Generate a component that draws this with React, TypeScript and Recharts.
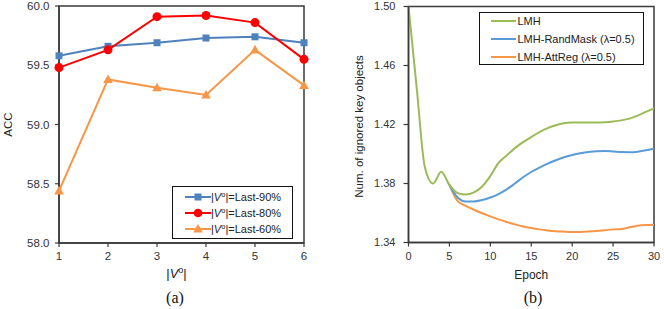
import React from 'react';
import { LineChart, Line, XAxis, YAxis, Legend, ReferenceArea, Label } from 'recharts';

// ---------- Chart (a) data ----------
const vSizes = [1, 2, 3, 4, 5, 6];
const last90 = [59.58, 59.66, 59.69, 59.73, 59.74, 59.69];
const last80 = [59.48, 59.63, 59.91, 59.92, 59.86, 59.55];
const last60 = [58.44, 59.38, 59.31, 59.25, 59.63, 59.33];
const accTicks = [58, 58.5, 59, 59.5, 60];

// ---------- Chart (b) data ----------
const epochs = [0, 1, 2, 3, 4, 5, 6, 7, 8, 9, 10, 11, 12, 13, 14, 15, 16, 17, 18, 19, 20, 21, 22, 23, 24, 25, 26, 27, 28, 29, 30];
const lmh = [1.5, 1.445, 1.391, 1.38, 1.388, 1.379, 1.3735, 1.3725, 1.374, 1.378, 1.385, 1.394, 1.399, 1.404, 1.408, 1.4115, 1.4148, 1.4175, 1.4195, 1.4208, 1.4213, 1.4214, 1.4213, 1.4213, 1.4215, 1.422, 1.4228, 1.424, 1.426, 1.4285, 1.431];
const randMask = [null, null, null, null, null, 1.379, 1.3705, 1.3678, 1.3678, 1.3688, 1.3705, 1.3728, 1.376, 1.38, 1.3842, 1.3878, 1.3908, 1.3935, 1.3958, 1.3978, 1.3993, 1.4005, 1.4014, 1.4019, 1.402, 1.4017, 1.4013, 1.4012, 1.4016, 1.4025, 1.4038];
const attReg = [null, null, null, null, null, 1.379, 1.368, 1.3648, 1.3622, 1.3598, 1.3577, 1.3557, 1.3539, 1.3523, 1.3509, 1.3498, 1.3489, 1.3482, 1.3477, 1.3474, 1.3472, 1.3472, 1.3474, 1.3478, 1.3483, 1.3489, 1.3492, 1.3503, 1.3514, 1.3519, 1.3521];
const epochTicks = [0, 5, 10, 15, 20, 25, 30];
const objTicks = [1.34, 1.38, 1.42, 1.46, 1.5];

const dataA = vSizes.map((v, i) => ({ v, l90: last90[i], l80: last80[i], l60: last60[i] }));
const dataB = epochs.map((e, i) => ({ e, lmh: lmh[i], rand: randMask[i], att: attReg[i] }));

const FONT = '"Liberation Sans", Arial, sans-serif';
const AXIS = '#3a3a3a';
const TICK_A = { fontSize: 11.5, fill: '#333', fontFamily: FONT };
const TICK_B = { fontSize: 11, fill: '#333', fontFamily: FONT };

const BLUE_A = '#4F81BD';
const RED_A = '#FF0000';
const ORANGE_A = '#F79646';
const GREEN_B = '#9BBB59';
const BLUE_B = '#5B9BD5';
const ORANGE_B = '#F79646';

const squareDot = (props: any) => {
  const { cx, cy, index } = props;
  if (cx == null || cy == null) return <g key={'s' + index} />;
  return <rect key={'s' + index} x={cx - 3.5} y={cy - 3.5} width={7} height={7} fill={BLUE_A} />;
};
const triDot = (props: any) => {
  const { cx, cy, index } = props;
  if (cx == null || cy == null) return <g key={'t' + index} />;
  return <polygon key={'t' + index} points={`${cx},${cy - 5} ${cx - 4.8},${cy + 3.6} ${cx + 4.8},${cy + 3.6}`} fill={ORANGE_A} />;
};

const VLabel = ({ size = 11, sup = 7.5 }: { size?: number; sup?: number }) => (
  <span style={{ fontSize: size }}>
    |<i>V</i>
    <span style={{ fontSize: sup, position: 'relative', top: -4 }}>o</span>|
  </span>
);

const legendA = [
  { suffix: '=Last-90%', color: BLUE_A, marker: 'square' },
  { suffix: '=Last-80%', color: RED_A, marker: 'circle' },
  { suffix: '=Last-60%', color: ORANGE_A, marker: 'tri' },
];

const LegendA = () => (
  <div style={{ position: 'relative', width: 121, height: 53, boxSizing: 'border-box', border: '1.5px solid #111', background: '#fff', fontFamily: FONT, fontSize: 11, color: '#222' }}>
    {legendA.map((s, i) => (
      <div key={i} style={{ position: 'absolute', left: 11.5, top: 1.5 + 16.3 * i, height: 16, display: 'flex', alignItems: 'center', whiteSpace: 'nowrap' }}>
        <svg width={26} height={16} style={{ display: 'block' }}>
          <line x1={0} y1={8} x2={26} y2={8} stroke={s.color} strokeWidth={2} />
          {s.marker === 'square' && <rect x={9.5} y={4.5} width={7} height={7} fill={s.color} />}
          {s.marker === 'circle' && <circle cx={13} cy={8} r={4.3} fill={s.color} />}
          {s.marker === 'tri' && <polygon points="13,3 8.2,11.6 17.8,11.6" fill={s.color} />}
        </svg>
        <span style={{ marginLeft: 0.5 }}>
          <VLabel size={11} sup={7.5} />
          {s.suffix}
        </span>
      </div>
    ))}
  </div>
);

const legendB = [
  { name: 'LMH', color: GREEN_B },
  { name: 'LMH-RandMask (λ=0.5)', color: BLUE_B },
  { name: 'LMH-AttReg (λ=0.5)', color: ORANGE_B },
];

const LegendB = () => (
  <div style={{ position: 'relative', width: 165, height: 53, boxSizing: 'border-box', border: '1.5px solid #111', background: '#fff', fontFamily: FONT, fontSize: 11, color: '#222' }}>
    {legendB.map((s, i) => (
      <div key={i} style={{ position: 'absolute', left: 10.5, top: 0.6 + 18 * i, height: 16, display: 'flex', alignItems: 'center', whiteSpace: 'nowrap' }}>
        <svg width={25} height={16} style={{ display: 'block' }}>
          <line x1={0} y1={8} x2={25} y2={8} stroke={s.color} strokeWidth={2} />
        </svg>
        <span style={{ marginLeft: 2 }}>{s.name}</span>
      </div>
    ))}
  </div>
);

const Caption = ({ text, left, width }: { text: string; left: number; width: number }) => (
  <div style={{ position: 'absolute', left, top: 290, width, textAlign: 'center', fontFamily: '"Liberation Serif", "Times New Roman", serif', fontSize: 16, lineHeight: '16px', color: '#111' }}>
    {text}
  </div>
);

export default function App() {
  return (
    <div style={{ position: 'absolute', left: 0, top: 0, width: 664, height: 309, background: '#fff', overflow: 'hidden' }}>
      {/* Chart (a) */}
      <div style={{ position: 'absolute', left: 0, top: 0 }}>
        <LineChart width={332} height={309} data={dataA} margin={{ top: 6, right: 28, bottom: 26, left: 0 }}>
          <XAxis
            dataKey="v"
            type="number"
            domain={[1, 6]}
            ticks={vSizes}
            tick={TICK_A}
            tickSize={4}
            tickMargin={5}
            axisLine={{ stroke: AXIS, strokeWidth: 1.5 }}
            tickLine={{ stroke: AXIS, strokeWidth: 1.2 }}
            height={40}
          >
            <Label
              content={(p: any) => {
                const vb = p.viewBox || { x: 0, y: 0, width: 0 };
                const cx = vb.x + vb.width / 2 - 5;
                const y = vb.y + 35;
                return (
                  <text x={cx} y={y} textAnchor="middle" fontFamily={FONT} fontSize={13} fill="#222">
                    <tspan>|</tspan>
                    <tspan fontStyle="italic">V</tspan>
                    <tspan fontSize={9} dy={-5}>o</tspan>
                    <tspan dy={5}>|</tspan>
                  </text>
                );
              }}
            />
          </XAxis>
          <YAxis
            type="number"
            domain={[58, 60]}
            ticks={accTicks}
            tickFormatter={(v: number) => v.toFixed(1)}
            tick={TICK_A}
            tickSize={4}
            tickMargin={5.5}
            axisLine={{ stroke: AXIS, strokeWidth: 1.5 }}
            tickLine={{ stroke: AXIS, strokeWidth: 1.2 }}
            width={59}
          >
            <Label
              content={(p: any) => {
                const vb = p.viewBox || { x: 0, y: 0, height: 0 };
                const x = vb.x + 8;
                const y = vb.y + vb.height / 2;
                return (
                  <text x={x} y={y} transform={`rotate(-90 ${x} ${y})`} textAnchor="middle" dominantBaseline="central" fontFamily={FONT} fontSize={11.5} fill="#222">
                    ACC
                  </text>
                );
              }}
            />
          </YAxis>
          <ReferenceArea x1={1} x2={6} y1={58} y2={60} fill="none" stroke={AXIS} strokeWidth={1.5} />
          <Legend
            layout="vertical"
            align="center"
            verticalAlign="middle"
            wrapperStyle={{ left: 172, top: 186, width: 121, height: 53 }}
            content={() => <LegendA />}
          />
          <Line type="linear" dataKey="l90" stroke={BLUE_A} strokeWidth={2} dot={squareDot} isAnimationActive={false} />
          <Line type="linear" dataKey="l80" stroke={RED_A} strokeWidth={2} dot={{ r: 4.5, fill: RED_A, stroke: RED_A, strokeWidth: 0 }} isAnimationActive={false} />
          <Line type="linear" dataKey="l60" stroke={ORANGE_A} strokeWidth={2} dot={triDot} isAnimationActive={false} />
        </LineChart>
        <Caption text="(a)" left={0} width={350} />
      </div>

      {/* Chart (b) */}
      <div style={{ position: 'absolute', left: 332, top: 0 }}>
        <LineChart width={332} height={309} data={dataB} margin={{ top: 6.5, right: 10, bottom: 26, left: 0 }}>
          <XAxis
            dataKey="e"
            type="number"
            domain={[0, 30]}
            ticks={epochTicks}
            tick={TICK_B}
            tickSize={4}
            tickMargin={6}
            axisLine={{ stroke: AXIS, strokeWidth: 1.5 }}
            tickLine={{ stroke: AXIS, strokeWidth: 1.2 }}
            height={40.5}
          >
            <Label
              content={(p: any) => {
                const vb = p.viewBox || { x: 0, y: 0, width: 0 };
                const cx = vb.x + vb.width / 2;
                const y = vb.y + 36;
                return (
                  <text x={cx} y={y} textAnchor="middle" fontFamily={FONT} fontSize={12} fill="#222">
                    Epoch
                  </text>
                );
              }}
            />
          </XAxis>
          <YAxis
            type="number"
            domain={[1.34, 1.5]}
            ticks={objTicks}
            tickFormatter={(v: number) => v.toFixed(2)}
            tick={TICK_B}
            tickSize={5}
            tickMargin={8}
            axisLine={{ stroke: AXIS, strokeWidth: 1.5 }}
            tickLine={{ stroke: AXIS, strokeWidth: 1.2 }}
            width={76.5}
          >
            <Label
              content={(p: any) => {
                const vb = p.viewBox || { x: 0, y: 0, height: 0 };
                const x = vb.x + 26.5;
                const y = vb.y + vb.height / 2 + 2;
                return (
                  <text x={x} y={y} transform={`rotate(-90 ${x} ${y})`} textAnchor="middle" dominantBaseline="central" fontFamily={FONT} fontSize={11.5} fill="#222">
                    Num. of ignored key objects
                  </text>
                );
              }}
            />
          </YAxis>
          <ReferenceArea x1={0} x2={30} y1={1.34} y2={1.5} fill="none" stroke={AXIS} strokeWidth={1.5} />
          <Legend
            layout="vertical"
            align="center"
            verticalAlign="middle"
            wrapperStyle={{ left: 147, top: 11.7, width: 165, height: 53 }}
            content={() => <LegendB />}
          />
          <Line type="monotone" dataKey="att" stroke={ORANGE_B} strokeWidth={2} dot={false} isAnimationActive={false} />
          <Line type="monotone" dataKey="rand" stroke={BLUE_B} strokeWidth={2} dot={false} isAnimationActive={false} />
          <Line type="monotone" dataKey="lmh" stroke={GREEN_B} strokeWidth={2} dot={false} isAnimationActive={false} />
        </LineChart>
        <Caption text="(b)" left={0} width={402} />
      </div>
    </div>
  );
}
